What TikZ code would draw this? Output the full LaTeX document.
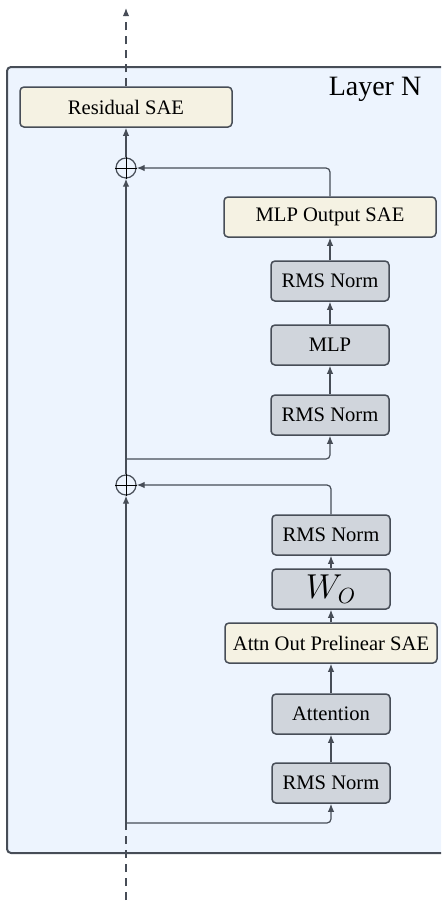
\documentclass[tikz,border=0pt]{standalone}
\usepackage{fontspec}
\setmainfont{Liberation Serif}
\usetikzlibrary{arrows.meta}
\definecolor{edgegray}{HTML}{474D57}
\definecolor{layerblue}{HTML}{EDF4FE}
\definecolor{saecream}{HTML}{F5F2E3}
\definecolor{opgray}{HTML}{D0D5DC}
\tikzset{
  opbox/.style={draw=edgegray,line width=0.75pt,rounded corners=2pt,fill=opgray,minimum width=59pt,minimum height=20pt,inner sep=0pt,font=\fontsize{10.3}{12}\selectfont},
  saebox/.style={draw=edgegray,line width=0.75pt,rounded corners=2pt,fill=saecream,minimum width=106pt,minimum height=20pt,inner sep=0pt,font=\fontsize{10.3}{12}\selectfont},
  flow/.style={draw=edgegray,line width=0.6pt,rounded corners=2pt,-{Latex[length=4pt,width=3.2pt]}},
  addnode/.style={circle,draw=edgegray,line width=0.6pt,minimum size=10pt,inner sep=0pt}
}
\begin{document}
\begin{tikzpicture}[x=0.5pt,y=-0.5pt]
\clip (0,0) rectangle (441,905);

% layer frame
\draw[draw=edgegray,fill=layerblue,line width=1pt,rounded corners=2pt] (7,67) rectangle (460,853);
\node at (375,89) {\fontsize{14}{16}\selectfont Layer N};

\coordinate (top) at (126,8);
\coordinate (bottom) at (126,900);
\coordinate (jA) at (126,823);
\coordinate (jM) at (126,459);

\node[saebox] (ressae) at (126,107) {Residual SAE};
\node[addnode] (add1) at (126,168) {};
\node[addnode] (add2) at (126,485) {};

\node[saebox] (mlpsae) at (330,217) {MLP Output SAE};
\node[opbox] (rmsC) at (330,281) {RMS Norm};
\node[opbox] (mlp) at (330,345) {MLP};
\node[opbox] (rmsB) at (330,415) {RMS Norm};

\node[opbox] (rmsA2) at (331,535) {RMS Norm};
\node[opbox] (wo) at (331,589) {\fontsize{16}{18}\selectfont $W_O$};
\node[saebox] (attnsae) at (331,643) {Attn Out Prelinear SAE};
\node[opbox] (attn) at (331,714) {Attention};
\node[opbox] (rmsA) at (331,783) {RMS Norm};

\draw (add1.north) -- (add1.south) (add1.west) -- (add1.east);
\draw (add2.north) -- (add2.south) (add2.west) -- (add2.east);

% residual stream
\draw[flow,dash pattern=on 4pt off 3pt] (ressae.north) -- (top);
\draw[edgegray,line width=0.6pt,dash pattern=on 4pt off 3pt] (bottom) -- (jA);
\draw[flow] (jA) -- (add2.south);
\draw[flow] (add2.north) -- (add1.south);
\draw[flow] (add1.north) -- (ressae.south);

% attention block
\draw[flow] (jA) -| (rmsA.south);
\draw[flow] (rmsA) -- (attn);
\draw[flow] (attn) -- (attnsae);
\draw[flow] (attnsae) -- (wo);
\draw[flow] (wo) -- (rmsA2);
\draw[flow] (rmsA2.north) |- (add2.east);

% mlp block
\draw[flow] (jM) -| (rmsB.south);
\draw[flow] (rmsB) -- (mlp);
\draw[flow] (mlp) -- (rmsC);
\draw[flow] (rmsC) -- (mlpsae);
\draw[flow] (mlpsae.north) |- (add1.east);

\end{tikzpicture}
\end{document}
